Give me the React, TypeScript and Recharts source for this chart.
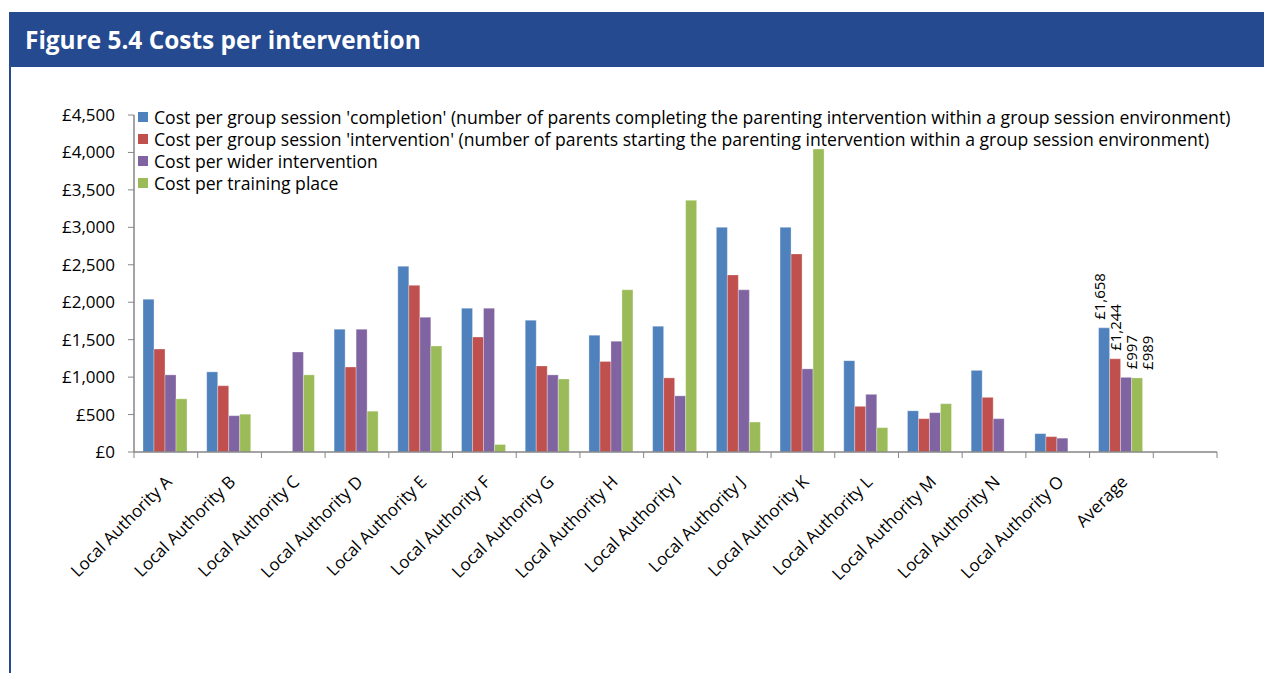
import React from 'react'
import { BarChart, Bar, XAxis, YAxis, Legend } from 'recharts'

const categories = [
  'Local Authority A', 'Local Authority B', 'Local Authority C', 'Local Authority D',
  'Local Authority E', 'Local Authority F', 'Local Authority G', 'Local Authority H',
  'Local Authority I', 'Local Authority J', 'Local Authority K', 'Local Authority L',
  'Local Authority M', 'Local Authority N', 'Local Authority O', 'Average', '',
]
const groupCompletion = [2040, 1070, null, 1640, 2480, 1920, 1760, 1560, 1680, 3000, 3000, 1220, 550, 1090, 245, 1658, null]
const groupIntervention = [1375, 885, null, 1135, 2225, 1535, 1150, 1210, 990, 2365, 2645, 610, 445, 730, 205, 1244, null]
const widerIntervention = [1030, 485, 1335, 1640, 1800, 1920, 1030, 1480, 750, 2165, 1110, 770, 525, 445, 185, 997, null]
const trainingPlace = [710, 505, 1030, 545, 1415, 100, 975, 2165, 3360, 400, 4045, 325, 645, null, null, 989, null]
const yTicks = [0, 500, 1000, 1500, 2000, 2500, 3000, 3500, 4000, 4500]

const series = [
  { key: 'completion', color: '#4F81BD', name: "Cost per group session 'completion' (number of parents completing the parenting intervention within a group session environment)" },
  { key: 'intervention', color: '#C0504D', name: "Cost per group session 'intervention' (number of parents starting the parenting intervention within a group session environment)" },
  { key: 'wider', color: '#8064A2', name: 'Cost per wider intervention' },
  { key: 'training', color: '#9BBB59', name: 'Cost per training place' },
]

const data = categories.map((name, i) => ({
  name,
  completion: groupCompletion[i],
  intervention: groupIntervention[i],
  wider: widerIntervention[i],
  training: trainingPlace[i],
}))

const FONT = '"Open Sans", sans-serif'
const AXIS = '#868686'
const W = 1264
const H = 603
const MARGIN = { top: 45, right: 47, left: 0, bottom: 1 }
const Y_W = 134
const PLOT_LEFT = MARGIN.left + Y_W
const BAND = (W - MARGIN.left - MARGIN.right - Y_W) / categories.length

const money = (v: number) => '£' + v.toLocaleString('en-GB')

function XTick(props: any) {
  const { x, y, payload, index } = props
  const left = x - BAND / 2
  return (
    <g>
      <line x1={left} x2={left} y1={y} y2={y + 6} stroke={AXIS} />
      {index === categories.length - 1 && (
        <line x1={x + BAND / 2} x2={x + BAND / 2} y1={y} y2={y + 6} stroke={AXIS} />
      )}
      {payload.value && (
        <text
          transform={`translate(${x + 7},${y + 31}) rotate(-45)`}
          textAnchor="end"
          fontSize={17}
          fontFamily={FONT}
          fill="#000"
        >
          {payload.value}
        </text>
      )}
    </g>
  )
}

// value labels only on the Average group; nudged apart like the original
const makeAvgLabel = (seriesIdx: number) => (props: any) => {
  const { x, y, width, value } = props
  const idx = Math.floor((x + width / 2 - PLOT_LEFT) / BAND)
  if (categories[idx] !== 'Average' || value == null) return null
  const nudge = (seriesIdx - 1) * 5
  return (
    <text
      transform={`translate(${x + width / 2 + nudge},${y - 8}) rotate(-90)`}
      dominantBaseline="central"
      fontSize={15}
      fontFamily={FONT}
      fill="#000"
    >
      {money(value)}
    </text>
  )
}

function LegendBox() {
  return (
    <div style={{ fontFamily: FONT, fontSize: 17.6, color: '#000' }}>
      {series.map((s) => (
        <div key={s.key} style={{ display: 'flex', alignItems: 'center', height: 22, whiteSpace: 'nowrap' }}>
          <span style={{ width: 10, height: 10, background: s.color, marginRight: 6, display: 'inline-block' }} />
          {s.name}
        </div>
      ))}
    </div>
  )
}

export default function App() {
  return (
    <div style={{ position: 'absolute', left: 0, top: 0, width: 1264, height: 673, background: '#fff', overflow: 'hidden' }}>
      <div
        style={{
          position: 'absolute', left: 9, top: 12, width: 1255, height: 55, background: '#254A8F',
          color: '#fff', fontFamily: FONT, fontWeight: 700, fontSize: 24.4, lineHeight: '55px',
          paddingLeft: 16, boxSizing: 'border-box',
        }}
      >
        Figure 5.4 Costs per intervention
      </div>
      <div style={{ position: 'absolute', left: 9, top: 67, width: 2, height: 606, background: '#254A8F' }} />
      <div style={{ position: 'absolute', left: 0, top: 70 }}>
        <BarChart width={W} height={H} data={data} margin={MARGIN} barGap={0} barCategoryGap={9}>
          <XAxis
            dataKey="name"
            interval={0}
            height={220}
            tickSize={0}
            tickMargin={0}
            tickLine={false}
            axisLine={{ stroke: AXIS, strokeWidth: 1.5 }}
            tick={<XTick />}
          />
          <YAxis
            width={Y_W}
            domain={[0, 4500]}
            ticks={yTicks}
            interval={0}
            tickFormatter={money}
            tickSize={6}
            tickMargin={13}
            axisLine={{ stroke: AXIS, strokeWidth: 1.5 }}
            tickLine={{ stroke: AXIS }}
            tick={{ fill: '#000', fontSize: 17, fontFamily: FONT }}
          />
          <Legend
            layout="vertical"
            align="center"
            verticalAlign="middle"
            wrapperStyle={{ top: 36, left: 138, width: 'auto' }}
            content={<LegendBox />}
          />
          {series.map((s, i) => (
            <Bar
              key={s.key}
              dataKey={s.key}
              name={s.name}
              fill={s.color}
              stroke="#ffffff"
              strokeOpacity={0.5}
              strokeWidth={0.6}
              isAnimationActive={false}
              label={makeAvgLabel(i)}
            />
          ))}
        </BarChart>
      </div>
    </div>
  )
}
